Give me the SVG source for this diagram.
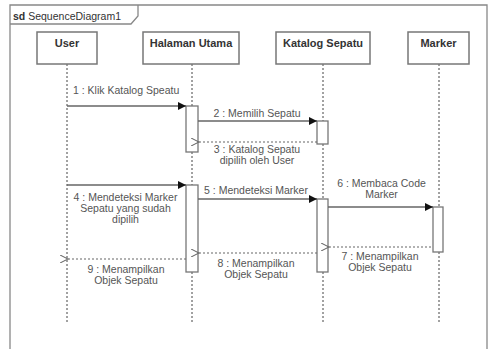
<svg xmlns="http://www.w3.org/2000/svg" width="489" height="349" viewBox="0 0 489 349">
<defs>
<style>
.frame{fill:none;stroke:#888;stroke-width:1.3}
.box{fill:#fff;stroke:#777;stroke-width:1.5}
.act{fill:#fff;stroke:#777;stroke-width:1.3}
.life{stroke:#444;stroke-width:1;stroke-dasharray:2,2;fill:none}
.msg{stroke:#666;stroke-width:1.3;fill:none}
.ret{stroke:#666;stroke-width:1.2;stroke-dasharray:2,2;fill:none}
.hd{font-family:"Liberation Sans",Arial,sans-serif;font-size:11px;font-weight:bold;fill:#333;text-anchor:middle}
.lb{font-family:"Liberation Sans",Arial,sans-serif;font-size:10.5px;fill:#555;text-anchor:middle}
.tt{font-family:"Liberation Sans",Arial,sans-serif;font-size:10.5px;fill:#333}
</style>
<marker id="fill" viewBox="0 0 10 10" refX="10" refY="5" markerWidth="10" markerHeight="8" markerUnits="userSpaceOnUse" orient="auto">
<path d="M0,0 L10,5 L0,10 z" fill="#111"/>
</marker>
<marker id="open" viewBox="0 0 10 10" refX="0" refY="5" markerWidth="9" markerHeight="8" markerUnits="userSpaceOnUse" orient="auto-start-reverse">
<path d="M10,0 L0,5 L10,10" fill="none" stroke="#666" stroke-width="1.3"/>
</marker>
</defs>
<rect width="489" height="349" fill="#fff"/>
<g id="frame">
<path class="frame" d="M10,360 V5 H487 V360"/>
<path class="frame" d="M10,24 H131 L138,16 V5"/>
<text class="tt" x="13" y="19.5"><tspan font-weight="bold">sd</tspan> SequenceDiagram1</text>
</g>
<g id="lifelines">
<line class="life" x1="67" y1="64" x2="67" y2="322"/>
<line class="life" x1="192" y1="64" x2="192" y2="322"/>
<line class="life" x1="323" y1="64" x2="323" y2="322"/>
<line class="life" x1="439" y1="64" x2="439" y2="322"/>
</g>
<g id="user"><rect class="box" x="37" y="32" width="60" height="32"/><text class="hd" x="67" y="47">User</text></g>
<g id="halaman"><rect class="box" x="143" y="32" width="96" height="32"/><text class="hd" x="191" y="47">Halaman Utama</text></g>
<g id="katalog"><rect class="box" x="276" y="32" width="94" height="32"/><text class="hd" x="323" y="47">Katalog Sepatu</text></g>
<g id="marker"><rect class="box" x="408" y="32" width="61" height="32"/><text class="hd" x="438.5" y="47">Marker</text></g>
<g id="activations">
<rect class="act" x="186" y="106" width="12" height="46"/>
<rect class="act" x="317" y="121" width="11" height="23"/>
<rect class="act" x="186" y="185" width="12" height="87"/>
<rect class="act" x="317" y="199" width="11" height="73"/>
<rect class="act" x="433" y="207" width="10" height="45"/>
</g>
<g id="connectors">
<line class="msg" x1="67" y1="106" x2="186" y2="106" marker-end="url(#fill)"/>
<line class="msg" x1="198" y1="121" x2="317" y2="121" marker-end="url(#fill)"/>
<line class="ret" x1="199" y1="142" x2="317" y2="142" marker-start="url(#open)"/>
<line class="msg" x1="67" y1="185" x2="186" y2="185" marker-end="url(#fill)"/>
<line class="msg" x1="198" y1="199" x2="317" y2="199" marker-end="url(#fill)"/>
<line class="msg" x1="328" y1="207" x2="433" y2="207" marker-end="url(#fill)"/>
<line class="ret" x1="329" y1="247" x2="433" y2="247" marker-start="url(#open)"/>
<line class="ret" x1="199" y1="253" x2="317" y2="253" marker-start="url(#open)"/>
<line class="ret" x1="68" y1="259" x2="186" y2="259" marker-start="url(#open)"/>
</g>
<g id="labels">
<text class="lb" x="73" y="94" style="text-anchor:start">1 : Klik Katalog Speatu</text>
<text class="lb" x="257" y="117">2 : Memilih Sepatu</text>
<text class="lb" x="257" y="153">3 : Katalog Sepatu</text>
<text class="lb" x="257" y="164">dipilih oleh User</text>
<text class="lb" x="125.5" y="201">4 : Mendeteksi Marker</text>
<text class="lb" x="125.5" y="212">Sepatu yang sudah</text>
<text class="lb" x="125.5" y="223">dipilih</text>
<text class="lb" x="256" y="193.5">5 : Mendeteksi Marker</text>
<text class="lb" x="381.5" y="187">6 : Membaca Code</text>
<text class="lb" x="381.5" y="198">Marker</text>
<text class="lb" x="380" y="259.5">7 : Menampilkan</text>
<text class="lb" x="380" y="270.5">Objek Sepatu</text>
<text class="lb" x="256" y="267">8 : Menampilkan</text>
<text class="lb" x="256" y="278">Objek Sepatu</text>
<text class="lb" x="126" y="272.5">9 : Menampilkan</text>
<text class="lb" x="126" y="283.5">Objek Sepatu</text>
</g>
</svg>
